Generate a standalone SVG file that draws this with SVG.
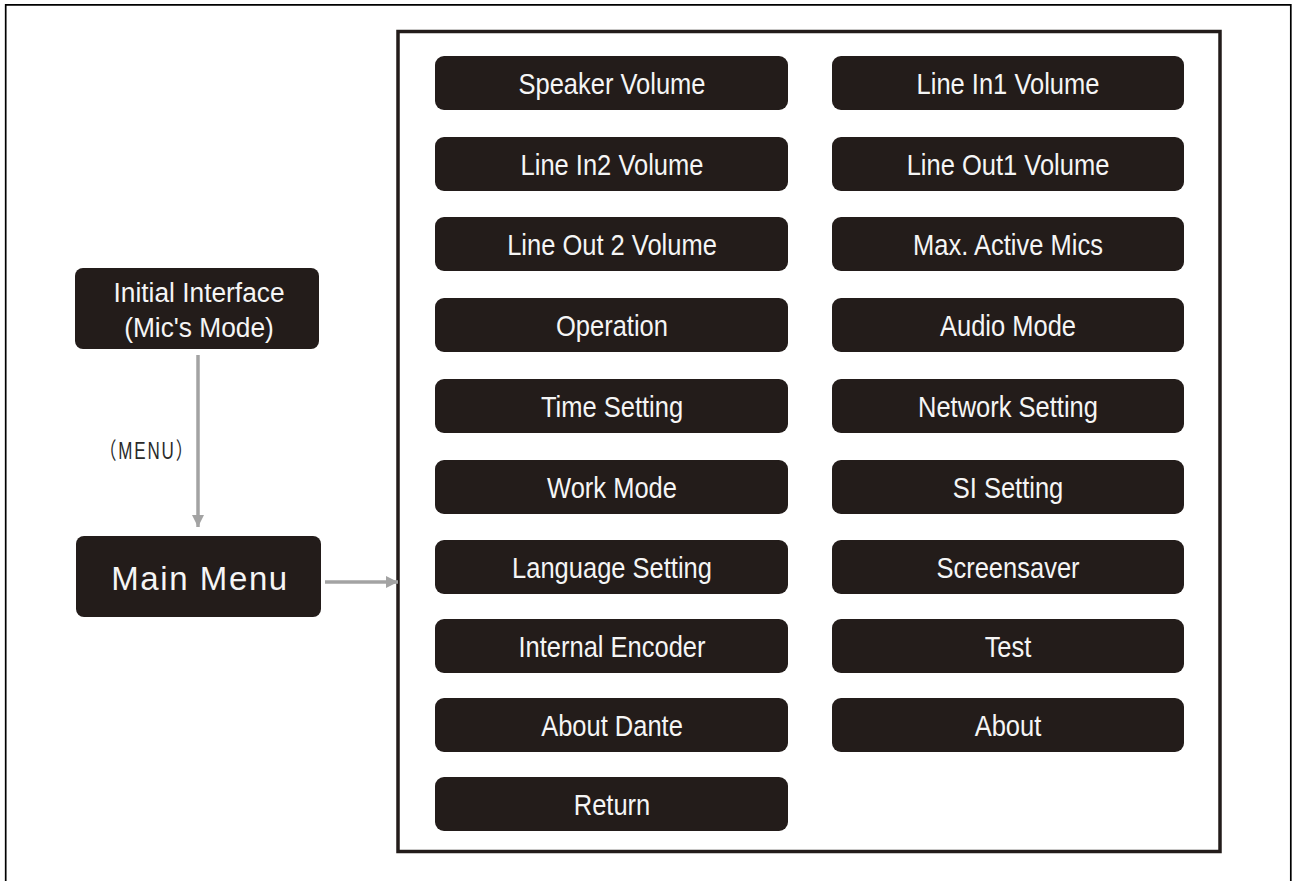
<svg xmlns="http://www.w3.org/2000/svg" width="1293" height="881" viewBox="0 0 1293 881">
  <style>
    .btn { fill: #231c1a; }
    .lbl { font-family: "Liberation Sans", Arial, sans-serif; font-size: 30px; fill: #f5f5f5; text-anchor: middle; }
    .two { font-size: 28px; }
    .big { font-family: "Liberation Sans", Arial, sans-serif; font-size: 33px; fill: #f5f5f5; text-anchor: middle; letter-spacing: 1.6px; }
    .key { font-family: "Liberation Sans", "Noto Sans CJK SC", sans-serif; font-size: 23px; fill: #2a2a2a; text-anchor: middle; letter-spacing: 2.5px; }
    .wire { stroke: #a3a3a3; stroke-width: 3.5; fill: none; }
    .frame { fill: none; stroke: #231c1a; stroke-width: 3.5; }
  </style>
  <defs>
    <marker id="head" viewBox="0 0 12 12" refX="12" refY="6" markerWidth="12" markerHeight="12" markerUnits="userSpaceOnUse" orient="auto">
      <path d="M0,0 L12,6 L0,12 Z" fill="#a3a3a3"/>
    </marker>
  </defs>

  <rect width="1293" height="881" fill="#ffffff"/>
  <!-- page border (open at the bottom) -->
  <path d="M5.7,881 V4.8 H1290.8 V881" fill="none" stroke="#000000" stroke-width="1.7"/>

  <!-- menu list frame -->
  <rect class="frame" x="398" y="31.5" width="822" height="820"/>

  <!-- connectors -->
  <g id="connectors">
    <line class="wire" x1="198" y1="355" x2="198" y2="527" marker-end="url(#head)"/>
    <line class="wire" x1="325" y1="582" x2="398" y2="582" marker-end="url(#head)"/>
    <text class="key" transform="translate(147 459) scale(0.74 1)">（MENU）</text>
  </g>

  <g id="initial-interface">
    <rect class="btn" x="75" y="268" width="244" height="81" rx="8"/>
    <text class="lbl two" transform="translate(199 302) scale(0.94 1)">Initial Interface</text>
    <text class="lbl two" transform="translate(199 337) scale(0.94 1)">(Mic's Mode)</text>
  </g>

  <g id="main-menu">
    <rect class="btn" x="76" y="536" width="245" height="81" rx="8"/>
    <text class="big" x="200" y="590">Main Menu</text>
  </g>

  <!-- left column -->
  <g id="speaker-volume">
    <rect class="btn" x="435" y="56" width="353" height="54" rx="9"/>
    <text class="lbl" transform="translate(612 94) scale(0.85 1)">Speaker Volume</text>
  </g>
  <g id="line-in2-volume">
    <rect class="btn" x="435" y="137" width="353" height="54" rx="9"/>
    <text class="lbl" transform="translate(612 175) scale(0.85 1)">Line In2 Volume</text>
  </g>
  <g id="line-out2-volume">
    <rect class="btn" x="435" y="217" width="353" height="54" rx="9"/>
    <text class="lbl" transform="translate(612 255) scale(0.85 1)">Line Out 2 Volume</text>
  </g>
  <g id="operation">
    <rect class="btn" x="435" y="298" width="353" height="54" rx="9"/>
    <text class="lbl" transform="translate(612 336) scale(0.85 1)">Operation</text>
  </g>
  <g id="time-setting">
    <rect class="btn" x="435" y="379" width="353" height="54" rx="9"/>
    <text class="lbl" transform="translate(612 417) scale(0.85 1)">Time Setting</text>
  </g>
  <g id="work-mode">
    <rect class="btn" x="435" y="460" width="353" height="54" rx="9"/>
    <text class="lbl" transform="translate(612 498) scale(0.85 1)">Work Mode</text>
  </g>
  <g id="language-setting">
    <rect class="btn" x="435" y="540" width="353" height="54" rx="9"/>
    <text class="lbl" transform="translate(612 578) scale(0.85 1)">Language Setting</text>
  </g>
  <g id="internal-encoder">
    <rect class="btn" x="435" y="619" width="353" height="54" rx="9"/>
    <text class="lbl" transform="translate(612 657) scale(0.85 1)">Internal Encoder</text>
  </g>
  <g id="about-dante">
    <rect class="btn" x="435" y="698" width="353" height="54" rx="9"/>
    <text class="lbl" transform="translate(612 736) scale(0.85 1)">About Dante</text>
  </g>
  <g id="return">
    <rect class="btn" x="435" y="777" width="353" height="54" rx="9"/>
    <text class="lbl" transform="translate(612 815) scale(0.85 1)">Return</text>
  </g>

  <!-- right column -->
  <g id="line-in1-volume">
    <rect class="btn" x="832" y="56" width="352" height="54" rx="9"/>
    <text class="lbl" transform="translate(1008 94) scale(0.85 1)">Line In1 Volume</text>
  </g>
  <g id="line-out1-volume">
    <rect class="btn" x="832" y="137" width="352" height="54" rx="9"/>
    <text class="lbl" transform="translate(1008 175) scale(0.85 1)">Line Out1 Volume</text>
  </g>
  <g id="max-active-mics">
    <rect class="btn" x="832" y="217" width="352" height="54" rx="9"/>
    <text class="lbl" transform="translate(1008 255) scale(0.85 1)">Max. Active Mics</text>
  </g>
  <g id="audio-mode">
    <rect class="btn" x="832" y="298" width="352" height="54" rx="9"/>
    <text class="lbl" transform="translate(1008 336) scale(0.85 1)">Audio Mode</text>
  </g>
  <g id="network-setting">
    <rect class="btn" x="832" y="379" width="352" height="54" rx="9"/>
    <text class="lbl" transform="translate(1008 417) scale(0.85 1)">Network Setting</text>
  </g>
  <g id="si-setting">
    <rect class="btn" x="832" y="460" width="352" height="54" rx="9"/>
    <text class="lbl" transform="translate(1008 498) scale(0.85 1)">SI Setting</text>
  </g>
  <g id="screensaver">
    <rect class="btn" x="832" y="540" width="352" height="54" rx="9"/>
    <text class="lbl" transform="translate(1008 578) scale(0.85 1)">Screensaver</text>
  </g>
  <g id="test">
    <rect class="btn" x="832" y="619" width="352" height="54" rx="9"/>
    <text class="lbl" transform="translate(1008 657) scale(0.85 1)">Test</text>
  </g>
  <g id="about">
    <rect class="btn" x="832" y="698" width="352" height="54" rx="9"/>
    <text class="lbl" transform="translate(1008 736) scale(0.85 1)">About</text>
  </g>
</svg>
